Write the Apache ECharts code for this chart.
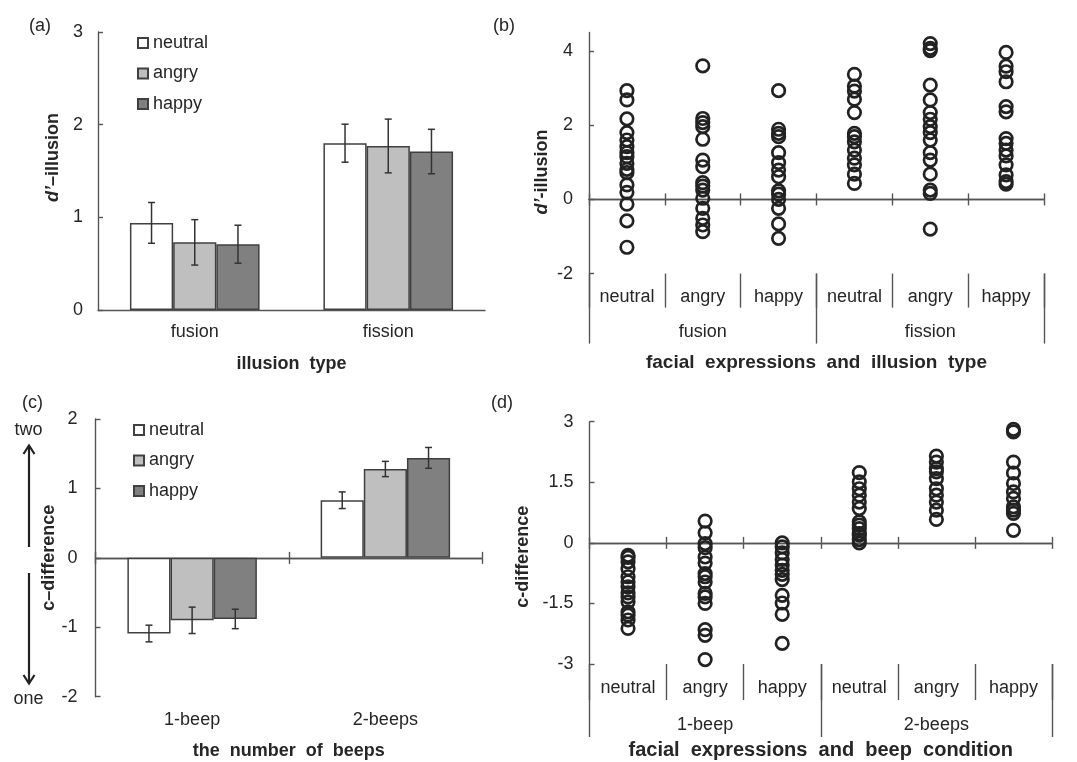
<!DOCTYPE html>
<html><head><meta charset="utf-8">
<script src="https://cdn.jsdelivr.net/npm/echarts@6/dist/echarts.min.js"></script>
<style>html,body{margin:0;padding:0;background:#fff}#c{width:1077px;height:762px}</style>
</head><body><div id="c"></div>
<script>
// ---------- data ----------
const expressions = ['neutral', 'angry', 'happy'];
// panel (a): d'-illusion means and error bars
const illusionTypes = ['fusion', 'fission'];
const illusionNeutral = [0.94, 1.80];
const illusionAngry = [0.73, 1.77];
const illusionHappy = [0.71, 1.71];
const illusionNeutralErr = [0.22, 0.205];
const illusionAngryErr = [0.245, 0.29];
const illusionHappyErr = [0.205, 0.24];
// panel (c): c-difference means and error bars
const beepConditions = ['1-beep', '2-beeps'];
const beepNeutral = [-1.09, 0.83];
const beepAngry = [-0.90, 1.28];
const beepHappy = [-0.88, 1.44];
const beepNeutralErr = [0.12, 0.12];
const beepAngryErr = [0.19, 0.11];
const beepHappyErr = [0.14, 0.15];
// panel (b): individual d'-illusion
const sixCategories = ['neutral', 'angry', 'happy', 'neutral', 'angry', 'happy'];
const fusionNeutralPts = [2.93, 2.68, 2.17, 1.80, 1.60, 1.42, 1.26, 1.15, 0.97, 0.81, 0.72, 0.39, 0.19, -0.13, -0.58, -1.29];
const fusionAngryPts = [3.60, 2.18, 2.07, 1.96, 1.62, 1.06, 0.88, 0.45, 0.36, 0.25, 0.03, -0.24, -0.51, -0.69, -0.87];
const fusionHappyPts = [2.93, 1.89, 1.78, 1.69, 1.26, 0.99, 0.79, 0.61, 0.23, 0.14, 0.00, -0.24, -0.66, -1.05];
const fissionNeutralPts = [3.37, 3.05, 2.92, 2.70, 2.34, 1.78, 1.69, 1.55, 1.33, 1.11, 0.93, 0.68, 0.43];
const fissionAngryPts = [4.20, 4.07, 4.01, 3.08, 2.68, 2.34, 2.16, 1.96, 1.80, 1.60, 1.26, 1.06, 0.68, 0.25, 0.16, -0.80];
const fissionHappyPts = [3.96, 3.59, 3.44, 3.17, 2.50, 2.36, 1.64, 1.51, 1.33, 1.17, 0.93, 0.66, 0.48, 0.41];
// panel (d): individual c-difference
const beep1NeutralPts = [-0.31, -0.36, -0.47, -0.64, -0.84, -0.97, -1.09, -1.24, -1.34, -1.46, -1.71, -1.79, -1.91, -2.12];
const beep1AngryPts = [0.54, 0.25, -0.02, -0.12, -0.35, -0.50, -0.76, -0.84, -0.97, -1.25, -1.34, -1.50, -2.15, -2.29, -2.89];
const beep1HappyPts = [0.00, -0.10, -0.25, -0.41, -0.55, -0.68, -0.78, -0.91, -1.30, -1.49, -1.77, -2.49];
const beep2NeutralPts = [1.74, 1.51, 1.34, 1.18, 1.01, 0.85, 0.52, 0.44, 0.35, 0.23, 0.19, 0.08, 0.00];
const beep2AngryPts = [2.15, 2.00, 1.84, 1.76, 1.59, 1.34, 1.18, 1.01, 0.81, 0.58];
const beep2HappyPts = [2.81, 2.75, 2.00, 1.73, 1.47, 1.26, 1.10, 0.89, 0.81, 0.73, 0.31];
// tick labels
const bTicks = [-2, 0, 2, 4];

// ---------- style ----------
const FONT = "'Liberation Sans', Arial, sans-serif";
const AX = '#555';
const TXT = '#262626';
const fills = ['#ffffff', '#bfbfbf', '#808080'];
const GAP = 0.33;

function lbl(extra) { return Object.assign({ fontSize: 18, color: TXT, fontFamily: FONT }, extra || {}); }
function nameStyle(size, extra) {
  return Object.assign({ fontSize: size, fontWeight: 'bold', color: TXT, fontFamily: FONT,
    rich: { i: { fontSize: size, fontWeight: 'bold', fontStyle: 'italic', color: TXT, fontFamily: FONT },
            b: { fontSize: size, fontWeight: 'bold', color: TXT, fontFamily: FONT } } }, extra || {});
}

function barSeries(name, k, data, xi, yi) {
  return { name, type: 'bar', xAxisIndex: xi, yAxisIndex: yi, data, barGap: '0%', barCategoryGap: (GAP * 100) + '%',
    itemStyle: { color: fills[k], borderColor: '#404040', borderWidth: 1.5 }, silent: true, z: 2 };
}
function errSeries(k, vals, errs, xi, yi) {
  return { type: 'custom', xAxisIndex: xi, yAxisIndex: yi, silent: true, z: 5,
    data: vals.map((v, i) => [i, v, errs[i]]),
    renderItem(params, api) {
      const i = api.value(0), v = api.value(1), e = api.value(2);
      const band = api.size([1, 0])[0];
      const bw = band * (1 - GAP) / 3;
      const cx = api.coord([i, v])[0] + (k - 1) * bw;
      const yt = api.coord([i, v + e])[1], yb = api.coord([i, v - e])[1];
      const c = 3.5, st = { stroke: '#333', lineWidth: 1.5 };
      return { type: 'group', children: [
        { type: 'line', shape: { x1: cx, y1: yt, x2: cx, y2: yb }, style: st },
        { type: 'line', shape: { x1: cx - c, y1: yt, x2: cx + c, y2: yt }, style: st },
        { type: 'line', shape: { x1: cx - c, y1: yb, x2: cx + c, y2: yb }, style: st }
      ] };
    } };
}
function dotSeries(col, vals, xi, yi) {
  return { type: 'scatter', xAxisIndex: xi, yAxisIndex: yi, silent: true, symbol: 'circle', symbolSize: 12.5,
    data: vals.map(v => [col, v]),
    itemStyle: { color: 'rgba(0,0,0,0)', borderColor: '#222', borderWidth: 2.7, opacity: 1 }, z: 4 };
}
const lineStyle = { color: AX, width: 1.4 };
function zeroAxis(grid, cats, tickInside, yIndex) {
  return { type: 'category', gridIndex: grid, data: cats, position: 'bottom',
    axisLine: { show: true, onZero: true, onZeroAxisIndex: yIndex, lineStyle },
    axisTick: { show: true, inside: tickInside, length: 6, interval: 0, lineStyle },
    axisLabel: { show: false }, splitLine: { show: false } };
}
function bottomAxis(grid, cats, tickLen, margin, name, nameGap, nameSize) {
  return { type: 'category', gridIndex: grid, data: cats, position: 'bottom',
    axisLine: { show: false, onZero: false },
    axisTick: { show: tickLen > 0, inside: false, length: tickLen, interval: 0, lineStyle },
    axisLabel: lbl({ interval: 0, margin }),
    name: name || '', nameLocation: 'middle', nameGap: nameGap || 0, nameMoveOverlap: false,
    nameTextStyle: nameStyle(nameSize || 18), splitLine: { show: false } };
}

const option = {
  animation: false,
  backgroundColor: '#fff',
  textStyle: { fontFamily: FONT },
  title: [
    { text: '(a)', left: 24, top: 12, textStyle: { fontSize: 18, fontWeight: 'normal', color: TXT, fontFamily: FONT } },
    { text: '(b)', left: 488, top: 12, textStyle: { fontSize: 18, fontWeight: 'normal', color: TXT, fontFamily: FONT } },
    { text: '(c)', left: 17, top: 389, textStyle: { fontSize: 18, fontWeight: 'normal', color: TXT, fontFamily: FONT } },
    { text: '(d)', left: 486, top: 389, textStyle: { fontSize: 18, fontWeight: 'normal', color: TXT, fontFamily: FONT } }
  ],
  legend: [
    { data: expressions, orient: 'vertical', left: 132, top: 29, itemWidth: 10, itemHeight: 10, itemGap: 12.5, icon: 'rect',
      selectedMode: false, textStyle: lbl() },
    { data: expressions, orient: 'vertical', left: 128, top: 416, itemWidth: 10, itemHeight: 10, itemGap: 12.5, icon: 'rect',
      selectedMode: false, textStyle: lbl() }
  ],
  grid: [
    { left: 98, top: 32, width: 387, height: 278, outerBoundsMode: 'none' },
    { left: 589, top: 32.4, width: 455, height: 241.2, outerBoundsMode: 'none' },
    { left: 95.5, top: 419, width: 386.5, height: 277.7, outerBoundsMode: 'none' },
    { left: 589.5, top: 421.7, width: 462.5, height: 242.3, outerBoundsMode: 'none' }
  ],
  xAxis: [
    // 0: (a)
    { type: 'category', gridIndex: 0, data: illusionTypes,
      axisLine: { lineStyle }, axisTick: { inside: true, length: 6, interval: 0, lineStyle },
      axisLabel: lbl({ interval: 0, margin: 13 }),
      name: 'illusion  type', nameLocation: 'middle', nameGap: 45, nameMoveOverlap: false, nameTextStyle: nameStyle(18) },
    // 1-4: (b)
    zeroAxis(1, sixCategories, true, 1),
    zeroAxis(1, sixCategories, false, 1),
    bottomAxis(1, sixCategories, 34, 14),
    bottomAxis(1, illusionTypes, 70, 49, 'facial  expressions  and  illusion  type', 80, 19),
    // 5-7: (c)
    zeroAxis(2, beepConditions, true, 2),
    zeroAxis(2, beepConditions, false, 2),
    bottomAxis(2, beepConditions, 0, 14, 'the  number  of  beeps', 45, 18),
    // 8-11: (d)
    zeroAxis(3, sixCategories, true, 3),
    zeroAxis(3, sixCategories, false, 3),
    bottomAxis(3, sixCategories, 36, 15),
    bottomAxis(3, beepConditions, 73, 52, 'facial  expressions  and  beep  condition', 76, 20)
  ],
  yAxis: [
    { type: 'value', gridIndex: 0, min: 0, max: 3, interval: 1,
      axisLine: { show: true, lineStyle }, axisTick: { show: true, inside: true, length: 5, lineStyle },
      axisLabel: lbl({ margin: 15 }), splitLine: { show: false },
      name: '{i|d’}{b|–illusion}', nameLocation: 'middle', nameRotate: 90, nameGap: 36, nameMoveOverlap: false,
      nameTextStyle: nameStyle(18, { padding: [0, 0, 0, 27] }) },
    { type: 'value', gridIndex: 1, min: -2, max: 4.5, interval: 2,
      axisLine: { show: true, onZero: false, lineStyle },
      axisTick: { show: true, inside: true, length: 5, lineStyle, customValues: bTicks },
      axisLabel: lbl({ margin: 16, customValues: bTicks }), splitLine: { show: false },
      name: '{i|d’}{b|-illusion}', nameLocation: 'middle', nameRotate: 90, nameGap: 38, nameMoveOverlap: false,
      nameTextStyle: nameStyle(18, { padding: [0, 38, 0, 0] }) },
    { type: 'value', gridIndex: 2, min: -2, max: 2, interval: 1,
      axisLine: { show: true, onZero: false, lineStyle }, axisTick: { show: true, inside: true, length: 5, lineStyle },
      axisLabel: lbl({ margin: 18 }), splitLine: { show: false },
      name: '{b|c–difference}', nameLocation: 'middle', nameRotate: 90, nameGap: 37, nameMoveOverlap: false,
      nameTextStyle: nameStyle(18) },
    { type: 'value', gridIndex: 3, min: -3, max: 3, interval: 1.5,
      axisLine: { show: true, onZero: false, lineStyle }, axisTick: { show: true, inside: true, length: 5, lineStyle },
      axisLabel: lbl({ margin: 16 }), splitLine: { show: false },
      name: '{b|c-difference}', nameLocation: 'middle', nameRotate: 90, nameGap: 57, nameMoveOverlap: false,
      nameTextStyle: nameStyle(18, { padding: [0, 28, 0, 0] }) }
  ],
  series: [
    barSeries('neutral', 0, illusionNeutral, 0, 0),
    barSeries('angry', 1, illusionAngry, 0, 0),
    barSeries('happy', 2, illusionHappy, 0, 0),
    errSeries(0, illusionNeutral, illusionNeutralErr, 0, 0),
    errSeries(1, illusionAngry, illusionAngryErr, 0, 0),
    errSeries(2, illusionHappy, illusionHappyErr, 0, 0),
    barSeries('neutral', 0, beepNeutral, 5, 2),
    barSeries('angry', 1, beepAngry, 5, 2),
    barSeries('happy', 2, beepHappy, 5, 2),
    errSeries(0, beepNeutral, beepNeutralErr, 5, 2),
    errSeries(1, beepAngry, beepAngryErr, 5, 2),
    errSeries(2, beepHappy, beepHappyErr, 5, 2),
    dotSeries(0, fusionNeutralPts, 1, 1),
    dotSeries(1, fusionAngryPts, 1, 1),
    dotSeries(2, fusionHappyPts, 1, 1),
    dotSeries(3, fissionNeutralPts, 1, 1),
    dotSeries(4, fissionAngryPts, 1, 1),
    dotSeries(5, fissionHappyPts, 1, 1),
    dotSeries(0, beep1NeutralPts, 8, 3),
    dotSeries(1, beep1AngryPts, 8, 3),
    dotSeries(2, beep1HappyPts, 8, 3),
    dotSeries(3, beep2NeutralPts, 8, 3),
    dotSeries(4, beep2AngryPts, 8, 3),
    dotSeries(5, beep2HappyPts, 8, 3)
  ],
  graphic: [
    { type: 'text', x: 28.5, y: 430, style: { text: 'two', fontSize: 18, fontFamily: FONT, fill: TXT, align: 'center', verticalAlign: 'middle' } },
    { type: 'text', x: 28.5, y: 699, style: { text: 'one', fontSize: 18, fontFamily: FONT, fill: TXT, align: 'center', verticalAlign: 'middle' } },
    { type: 'line', shape: { x1: 29, y1: 547, x2: 29, y2: 446 }, style: { stroke: '#222', lineWidth: 2.2 } },
    { type: 'polyline', shape: { points: [[23.5, 454], [29, 445.5], [34.5, 454]] }, style: { stroke: '#222', lineWidth: 2.2, fill: null } },
    { type: 'line', shape: { x1: 29, y1: 573, x2: 29, y2: 683 }, style: { stroke: '#222', lineWidth: 2.2 } },
    { type: 'polyline', shape: { points: [[23.5, 675], [29, 683.5], [34.5, 675]] }, style: { stroke: '#222', lineWidth: 2.2, fill: null } }
  ]
};
const chart = echarts.init(document.getElementById('c'), null, { renderer: 'canvas' });
chart.setOption(option);
</script></body></html>
